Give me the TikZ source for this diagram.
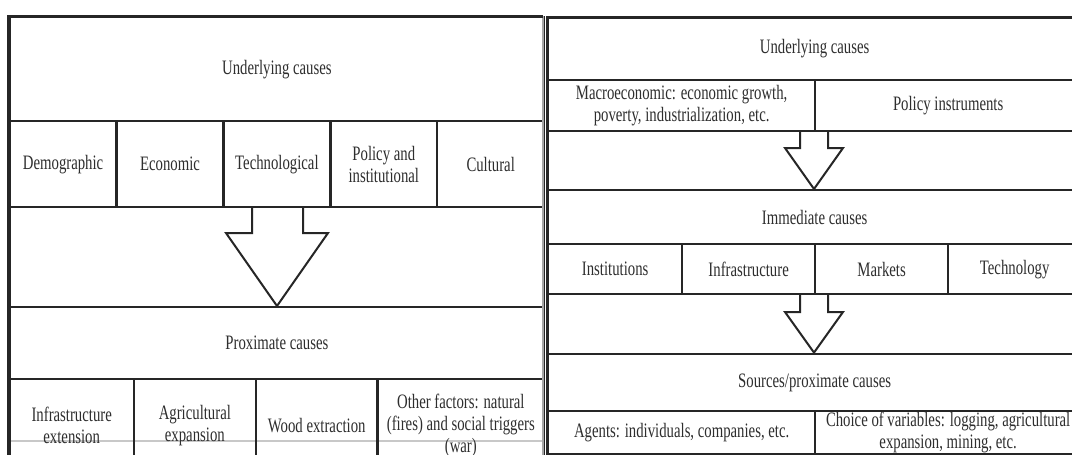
\documentclass[tikz,border=0pt]{standalone}
\usepackage{fontspec}
\setmainfont{Liberation Serif}[FakeStretch=0.72]
\definecolor{ln}{HTML}{262626}
\definecolor{tx}{HTML}{2E2E2E}
\definecolor{faint}{HTML}{C8C8C8}
\tikzset{
  cell/.style={draw=ln, line width=2.3pt, anchor=north west, inner sep=0pt,
    align=center, text=tx, font=\fontsize{20.5}{22}\selectfont},
  frame/.style={draw=ln, line width=3pt},
  edgegray/.style={draw=gray!70, line width=1.6pt},
  blockarrow/.style={draw=ln, line width=2pt, line join=miter},
  rule/.style={draw=faint, line width=1.2pt}
}
\begin{document}
\begin{tikzpicture}[x=1pt,y=-1pt]
\useasboundingbox (0,0) rectangle (1072,455);
\clip (0,0) rectangle (1072,455);
\fill[white] (0,0) rectangle (1072,455);

% ---------------- left panel ----------------
\draw[rule] (8.5,441) -- (543,441);
\node[cell, minimum width=534.5pt, minimum height=104pt] (lu) at (8.5,16) {Underlying causes};
\node[cell, minimum width=106.9pt, minimum height=86pt] (ld) at (8.5,120) {Demographic};
\node[cell, minimum width=106.9pt, minimum height=86pt] (le) at (115.4,120) {Economic};
\node[cell, minimum width=106.9pt, minimum height=86pt] (lt) at (222.3,120) {Technological};
\node[cell, minimum width=106.9pt, minimum height=86pt] (lp) at (329.2,120) {Policy and\\institutional};
\node[cell, minimum width=106.9pt, minimum height=86pt] (lc) at (436.1,120) {Cultural};
\node[cell, minimum width=534.5pt, minimum height=100pt] (la) at (8.5,206) {};
\node[cell, minimum width=534.5pt, minimum height=72pt] (lpc) at (8.5,306) {Proximate causes};
\node[cell, minimum width=124.1pt, minimum height=92pt] (li) at (8.5,378) {Infrastructure\\extension};
\node[cell, minimum width=122.2pt, minimum height=92pt] (lag) at (132.6,378) {Agricultural\\expansion};
\node[cell, minimum width=121.6pt, minimum height=92pt] (lw) at (254.8,378) {Wood extraction};
\node[cell, minimum width=166.6pt, minimum height=92pt] (lo) at (376.4,378) {Other factors: natural\\(fires) and social triggers\\(war)};
\draw[blockarrow] (252,206) -- (252,233) -- (226,233) -- (277,306) -- (328,233) -- (303,233) -- (303,206);
\draw[edgegray] (543,16) -- (543,460);
\draw[frame] (8.5,470) -- (8.5,16) -- (543,16);

% ---------------- right panel ----------------
\node[cell, minimum width=533pt, minimum height=61.5pt] (ru) at (547,17) {Underlying causes};
\node[cell, minimum width=267pt, minimum height=51.5pt] (rm) at (547,78.5) {Macroeconomic: economic growth,\\poverty, industrialization, etc.};
\node[cell, minimum width=266pt, minimum height=51.5pt] (rpi) at (814,78.5) {Policy instruments};
\node[cell, minimum width=533pt, minimum height=59pt] (ra1) at (547,130) {};
\node[cell, minimum width=533pt, minimum height=54pt] (ric) at (547,189) {Immediate causes};
\node[cell, minimum width=134pt, minimum height=50pt] (rin) at (547,243) {Institutions};
\node[cell, minimum width=133pt, minimum height=50pt] (rinf) at (681,243) {Infrastructure};
\node[cell, minimum width=133pt, minimum height=50pt] (rmk) at (814,243) {Markets};
\node[cell, minimum width=133pt, minimum height=50pt] (rte) at (947,243) {Technology};
\node[cell, minimum width=533pt, minimum height=59.6pt] (ra2) at (547,293) {};
\node[cell, minimum width=533pt, minimum height=57.4pt] (rsp) at (547,352.6) {Sources/proximate causes};
\node[cell, minimum width=267pt, minimum height=43pt] (rag) at (547,410) {Agents: individuals, companies, etc.};
\node[cell, minimum width=266pt, minimum height=43pt] (rch) at (814,410) {Choice of variables: logging, agricultural\\expansion, mining, etc.};
\draw[blockarrow] (800,130) -- (800,148) -- (785,148) -- (814,189) -- (843,148) -- (828,148) -- (828,130);
\draw[blockarrow] (800,293) -- (800,312) -- (785,312) -- (814,352.6) -- (843,312) -- (828,312) -- (828,293);
\draw[frame] (547,455) -- (547,17) -- (1080,17);
\end{tikzpicture}
\end{document}
